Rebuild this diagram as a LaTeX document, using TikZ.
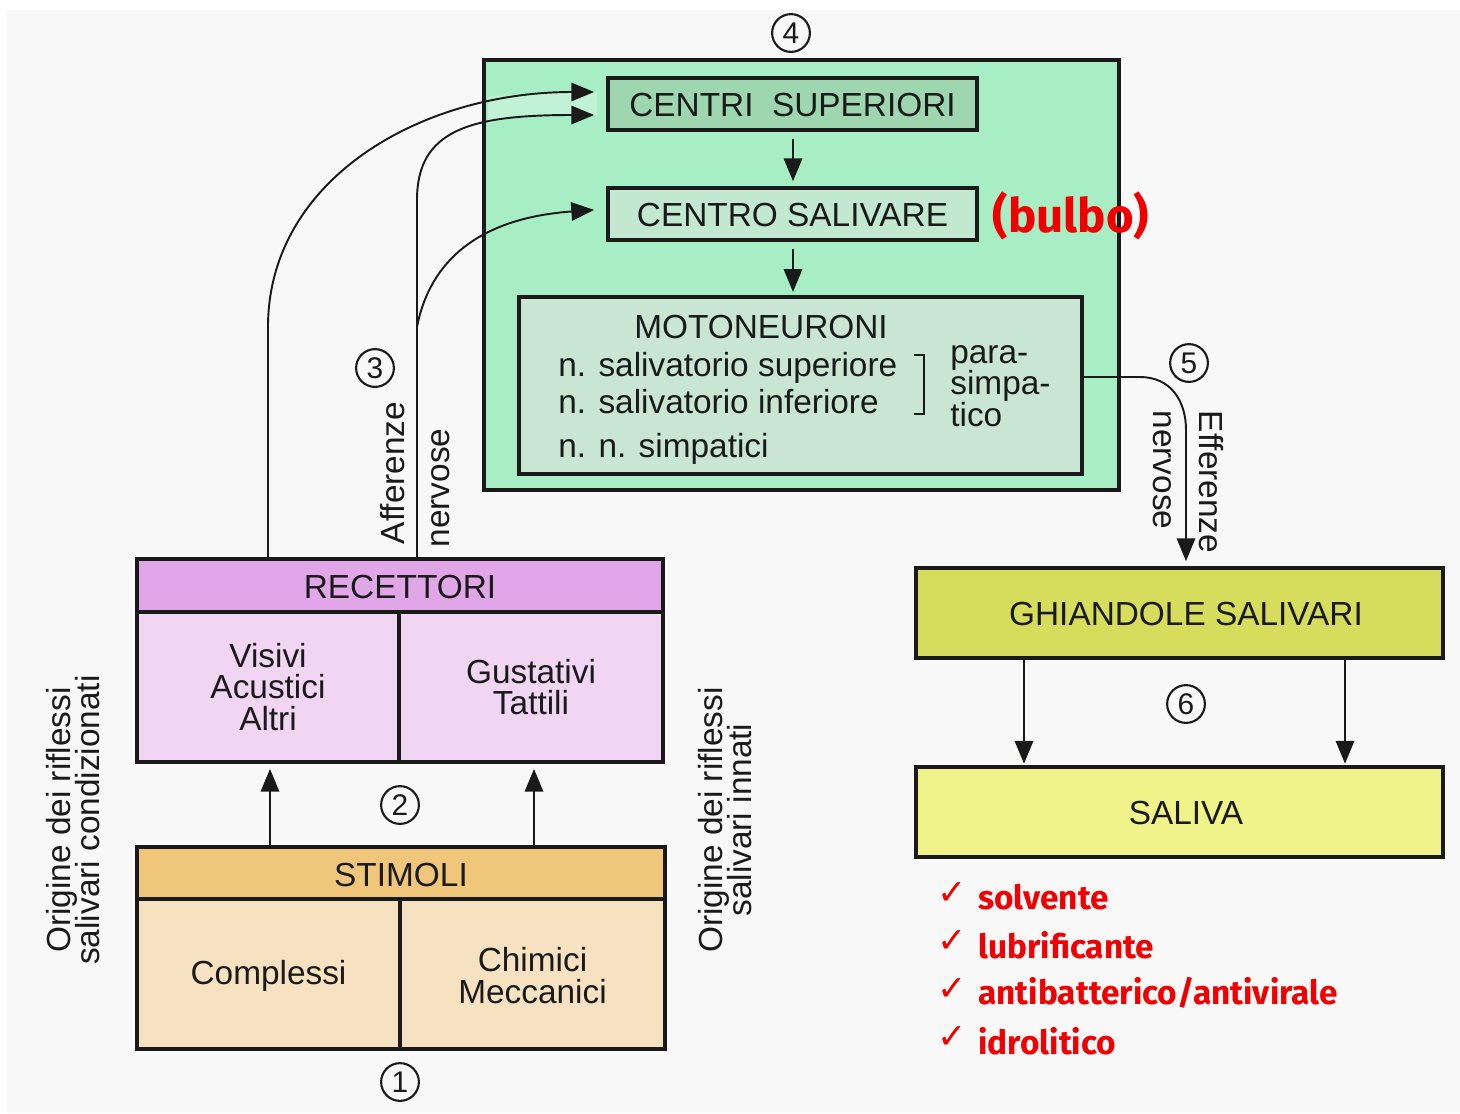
\documentclass[tikz,border=0pt]{standalone}
\usepackage{fontspec}
\setmainfont{Liberation Sans}
\newfontfamily\redfont{Fira Sans}
\newfontfamily\symfont{DejaVu Sans}
\usetikzlibrary{arrows.meta,fit,calc}
\definecolor{bgcol}{HTML}{F8F8F8}
\definecolor{txt}{HTML}{1A1A1A}
\definecolor{greenbox}{HTML}{A8EEC4}
\definecolor{greenlite}{HTML}{C2F2D6}
\definecolor{csupcol}{HTML}{9ED6B0}
\definecolor{csalcol}{HTML}{C2E8D0}
\definecolor{motocol}{HTML}{C8E6D2}
\definecolor{recH}{HTML}{E0A6E8}
\definecolor{recC}{HTML}{F0D6F2}
\definecolor{stimH}{HTML}{F0C67A}
\definecolor{stimC}{HTML}{F6E2C0}
\definecolor{ghicol}{HTML}{D6DC5C}
\definecolor{salcol}{HTML}{F0F28A}
\definecolor{redtxt}{HTML}{F00000}
\newcommand\fs{\fontsize{19}{19}\selectfont}
\begin{document}
\begin{tikzpicture}[x=0.02cm,y=-0.02cm,
  box/.style={draw=txt, line width=1.8pt, inner sep=0pt},
  lbl/.style={inner sep=0pt, font=\fs, text=txt, align=center},
  conn/.style={draw=txt, line width=1.1pt, -{Triangle[length=13pt,width=10.5pt]}},
  num/.style={circle, draw=txt, line width=1.2pt, minimum size=21.5pt, inner sep=0pt, text=txt, font=\fontsize{17}{17}\selectfont},
  redl/.style={inner sep=0pt, text=redtxt, font=\redfont\bfseries\fontsize{19}{19}\selectfont, anchor=west},
  chk/.style={inner sep=0pt, text=redtxt, font=\symfont\fontsize{20}{20}\selectfont}
]
\useasboundingbox (0,0) rectangle (1460,1113);
\fill[white] (0,0) rectangle (1460,1113);
\fill[bgcol] (7,10) rectangle (1460,1113);

% ---- green central box ----
\node[box, fill=greenbox, fit={(484,60)(1119,490)}] (gbox) {};
\fill[greenlite] (488,97) .. controls (530,93) and (560,92) .. (597,92) -- (597,115)
  .. controls (550,115) and (510,116) .. (488,124) -- cycle;
\node[box, fill=csupcol, fit={(608,78)(977,130)}] (cs) {};
\node[lbl] (cst) at ([yshift=-0.03cm]cs.center) {CENTRI\ \ SUPERIORI};
\node[box, fill=csalcol, fit={(608,188)(977,240)}] (csal) {};
\node[lbl] (csalt) at ([yshift=-0.03cm]csal.center) {CENTRO SALIVARE};
\node[box, fill=motocol, fit={(519,297)(1082,474)}] (moto) {};
\node[lbl] (motot) at (761,327) {MOTONEURONI};
\node[lbl, anchor=west] (ns1) at (558,368) {n. salivatorio superiore};
\node[lbl, anchor=west] (ns2) at (558,402) {n. salivatorio inferiore};
\node[lbl, anchor=west] (nn) at (558,449) {n. n. simpatici};
\node[lbl, anchor=west, align=left] (para) at (950,386) {para-\\[-1pt]simpa-\\[-1pt]tico};
\draw[txt, line width=1.3pt] (914,355) -- (924,355) -- (924,414) -- (914,414);
\node[num] (n4) at (791,33) {4};
\node[inner sep=0pt, text=redtxt, font=\redfont\bfseries\fontsize{27}{27}\selectfont] (bulbo) at (1071,216) {(bulbo)};

\coordinate (m1) at (793,260);
\draw[conn, shorten <=4pt, shorten >=3pt] (m1 |- cs.south) -- (m1 |- csal.north);
\draw[conn, shorten <=4pt, shorten >=2pt] (m1 |- csal.south) -- (m1 |- moto.north);

% ---- right column ----
\node[box, fill=ghicol, fit={(916,568)(1443,658)}] (ghi) {};
\node[lbl] (ghit) at (1186,614) {GHIANDOLE SALIVARI};
\node[box, fill=salcol, fit={(916,767)(1443,857)}] (sal) {};
\node[lbl] (salt) at (1186,813) {SALIVA};
\coordinate (e1) at (1186,430);
\draw[conn, shorten >=3pt] ([yshift=0.17cm]moto.east) -- (1140,377) .. controls (1170,377) and (1186,400) .. (e1) -- (e1 |- ghi.north);
\node[num] (n5) at (1189,363) {5};
\node[lbl, rotate=-90] (effn) at (1162,470) {nervose};
\node[lbl, rotate=-90] (eff) at (1211,482) {Efferenze};
\coordinate (g1) at (1024,700);
\coordinate (g2) at (1345,700);
\draw[conn, shorten >=1pt] (g1 |- ghi.south) -- (g1 |- sal.north);
\draw[conn, shorten >=1pt] (g2 |- ghi.south) -- (g2 |- sal.north);
\node[num] (n6) at (1186,704) {6};

\node[chk] (c1) at (952,893) {✓};
\node[chk] (c2) at (952,941) {✓};
\node[chk] (c3) at (952,989) {✓};
\node[chk] (c4) at (952,1037) {✓};
\node[redl] (r1) at (978,897) {solvente};
\node[redl] (r2) at (978,945) {lubrificante};
\node[redl] (r3) at (978,993) {antibatterico/antivirale};
\node[redl] (r4) at (978,1041) {idrolitico};

% ---- left column ----
\node[box, fill=recH, fit={(137,559)(663,612)}] (rec) {};
\node[lbl] (rect) at ([yshift=-0.03cm]rec.center) {RECETTORI};
\node[box, fill=recC, fit={(137,612)(399,762)}] (recL) {};
\node[lbl] (recLt) at (recL.center) {Visivi\\[-1pt]Acustici\\[-1pt]Altri};
\node[box, fill=recC, fit={(399,612)(663,762)}] (recR) {};
\node[lbl] (recRt) at (recR.center) {Gustativi\\[-1pt]Tattili};
\node[box, fill=stimH, fit={(137,847)(665,899)}] (stim) {};
\node[lbl] (stimt) at ([yshift=-0.04cm]stim.center) {STIMOLI};
\node[box, fill=stimC, fit={(137,899)(400,1049)}] (stimL) {};
\node[lbl] (stimLt) at ([yshift=-0.04cm]stimL.center) {Complessi};
\node[box, fill=stimC, fit={(400,899)(665,1049)}] (stimR) {};
\node[lbl] (stimRt) at ([yshift=-0.03cm]stimR.center) {Chimici\\[-1pt]Meccanici};

\coordinate (s1) at (270,800);
\coordinate (s2) at (534,800);
\draw[conn, shorten >=3pt] (s1 |- stim.north) -- (s1 |- recL.south);
\draw[conn, shorten >=3pt] (s2 |- stim.north) -- (s2 |- recR.south);
\node[num] (n2) at (400,805) {2};
\node[num] (n1) at (400,1082) {1};

% afferent paths
\coordinate (a1) at (268,327);
\coordinate (b1) at (417,200);
\coordinate (b0) at (417,327);
\draw[conn, shorten >=7pt] (a1 |- rec.north) -- (a1) .. controls (268,180) and (420,92) .. ([yshift=0.24cm]cs.west);
\draw[conn, shorten >=7pt] (b1 |- rec.north) -- (b1) .. controls (417,130) and (470,115) .. ([yshift=-0.22cm]cs.west);
\draw[conn, shorten >=7pt] (b0) .. controls (430,260) and (480,218) .. ([yshift=0.1cm]csal.west);
\node[num] (n3) at (375,368) {3};
\node[lbl, rotate=90] (aff) at (393,473) {Afferenze};
\node[lbl, rotate=90] (affn) at (441,488) {nervose};

% side labels
\node[lbl, rotate=90, align=center] (origL) at (73,820) {Origine dei riflessi\\[-2pt]salivari condizionati};
\node[lbl, rotate=90, align=center] (origR) at (725,820) {Origine dei riflessi\\[-2pt]salivari innati};
\end{tikzpicture}
\end{document}
